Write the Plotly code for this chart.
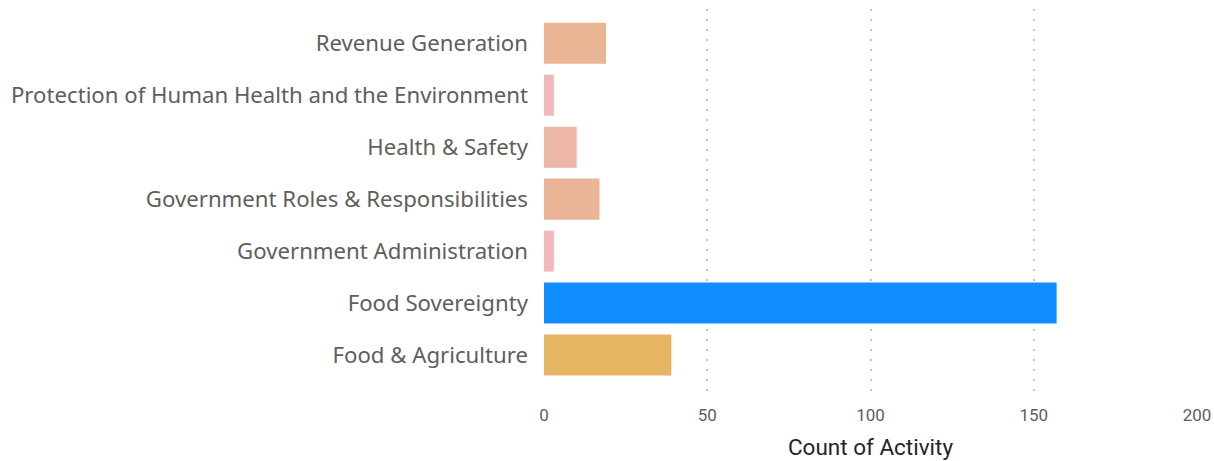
import plotly.graph_objects as go

# Categories listed bottom to top, as plotly draws them
categories = [
    "Food & Agriculture",
    "Food Sovereignty",
    "Government Administration",
    "Government Roles & Responsibilities",
    "Health & Safety",
    "Protection of Human Health and the Environment",
    "Revenue Generation",
]
counts = [39, 157, 3, 17, 10, 3, 19]
bar_colors = [
    "#E6B564",
    "#118DFF",
    "#F0B7BC",
    "#E9B596",
    "#ECB6A8",
    "#F0B7BD",
    "#E9B493",
]
x_ticks = [0, 50, 100, 150, 200]

fig = go.Figure(
    go.Bar(
        x=counts,
        y=categories,
        orientation="h",
        marker={"color": bar_colors, "line": {"width": 0}},
        width=0.79,
        hovertemplate="%{y}: %{x}<extra></extra>",
    )
)

fig.update_layout(
    width=1214,
    height=461,
    margin={"t": 9, "b": 65, "l": 544, "r": 17},
    paper_bgcolor="white",
    plot_bgcolor="white",
    showlegend=False,
    font={"family": "Noto Sans, Open Sans, sans-serif"},
)
fig.update_xaxes(
    range=[0, 200],
    tickvals=x_ticks,
    automargin=False,
    showgrid=True,
    gridcolor="#C4C4C4",
    gridwidth=1.5,
    griddash="1.5px,8.5px",
    zeroline=False,
    showline=False,
    tickfont={"family": "Roboto, sans-serif", "size": 17, "color": "#605E5C"},
    ticklabelstandoff=7,
    title={
        "text": "Count of Activity",
        "font": {"family": "Roboto, sans-serif", "size": 22.5, "color": "#252423"},
        "standoff": 15,
    },
)
fig.update_yaxes(
    range=[-0.79, 6.66],
    automargin=False,
    showgrid=False,
    zeroline=False,
    showline=False,
    ticks="",
    ticklabelstandoff=15,
    tickfont={"family": "Noto Sans, sans-serif", "size": 22.2, "color": "#605E5C"},
)

# drop the default page margin so the figure sits at the window's corner
fig.write_html(
    "out.html",
    config={"displayModeBar": False},
    post_script="document.body.style.margin='0';document.body.style.overflow='hidden';",
)
